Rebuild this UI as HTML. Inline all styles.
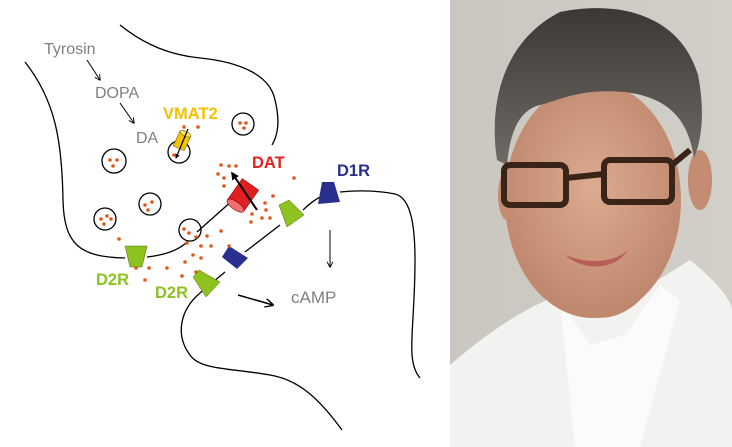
<!DOCTYPE html>
<html><head><style>
html,body{margin:0;padding:0;background:#fff;width:732px;height:447px;overflow:hidden}
svg{display:block}
text{font-family:"Liberation Sans",sans-serif}
</style></head><body>
<svg width="732" height="447" viewBox="0 0 732 447">
<defs>
<marker id="a" viewBox="0 0 10 10" refX="9" refY="5" markerWidth="6" markerHeight="6" orient="auto"><path d="M0,0 L10,5 L0,10" fill="none" stroke="#000" stroke-width="1.5"/></marker>
<marker id="b" viewBox="0 0 10 10" refX="8" refY="5" markerWidth="4" markerHeight="4" orient="auto"><path d="M0,0 L10,5 L0,10z" fill="#000"/></marker>
<radialGradient id="face" cx="50%" cy="45%" r="60%"><stop offset="0" stop-color="#dcab90"/><stop offset="1" stop-color="#bc846a"/></radialGradient>
<linearGradient id="bg" x1="0" x2="1"><stop offset="0" stop-color="#c9c7bf"/><stop offset="1" stop-color="#d2cfc8"/></linearGradient>
<linearGradient id="hair" x1="0" x2="0" y1="0" y2="1"><stop offset="0" stop-color="#3c3834"/><stop offset="1" stop-color="#6e6a66"/></linearGradient>
</defs>
<g fill="none" stroke="#000" stroke-width="1.3">
<path d="M25,62 C55,100 62,140 63,200 C64,245 80,257 125,258"/>
<path d="M147,257 C165,255 178,250 186,243"/>
<path d="M197,232 L233,200"/>
<circle cx="190" cy="230" r="11"/>
<path d="M120,25 C145,45 170,55 200,58 C240,62 270,75 275,100 C280,120 278,135 272,145"/>
<path d="M200,293 L225,272 M245,252 L280,225 M303,210 C310,203 316,199 322,196 M340,192 C360,190 380,191 395,194 C412,198 415,230 415,260 C415,330 405,360 420,378"/>
<path d="M342,430 C320,400 300,380 270,375 C230,368 200,370 190,355 C175,335 180,310 200,293"/>
<circle cx="114" cy="161" r="12"/><circle cx="150" cy="204" r="11"/><circle cx="105" cy="219" r="11"/><circle cx="243" cy="124" r="11"/><circle cx="179" cy="152" r="11"/>
</g>
<g stroke="#000" stroke-width="1" marker-end="url(#a)">
<line x1="87" y1="60" x2="100" y2="80"/><line x1="120" y1="103" x2="134" y2="123"/>
<line x1="330" y1="230" x2="330" y2="267"/><line x1="238" y1="295" x2="273" y2="305" stroke-width="1.5"/>
</g>
<polygon points="125,246 147,246 142,267 130,267" fill="#8dc21f" stroke="#4a6a10" stroke-width=".5"/>
<polygon points="279,205 289,200 304,215 287,227" fill="#8dc21f" stroke="#4a6a10" stroke-width=".5"/>
<polygon points="193,277 199,270 220,282 206,297" fill="#8dc21f" stroke="#4a6a10" stroke-width=".5"/>
<polygon points="322,182 334,182 340,202 318,204" fill="#2a2f8f"/>
<polygon points="222,257 229,246 248,258 237,269" fill="#2a2f8f"/>
<g transform="translate(243,195) rotate(35)"><rect x="-10" y="-13" width="20" height="26" fill="#e02020" stroke="#800" stroke-width=".6"/><ellipse cx="0" cy="13" rx="10" ry="4" fill="#f07070" stroke="#800" stroke-width=".6"/></g>
<line x1="257" y1="210" x2="232" y2="173" stroke="#000" stroke-width="2" marker-end="url(#b)"/>
<g transform="translate(182,141) rotate(25)"><rect x="-6" y="-8" width="12" height="16" fill="#f5c400" stroke="#806000" stroke-width=".6"/><ellipse cx="0" cy="-8" rx="6" ry="2.5" fill="#ffe060" stroke="#806000" stroke-width=".6"/></g>
<line x1="188" y1="129" x2="176" y2="158" stroke="#000" stroke-width="1.2" marker-end="url(#b)"/>
<g fill="#e2561e">
<circle cx="110" cy="160" r="1.8"/><circle cx="117" cy="160" r="1.8"/><circle cx="113" cy="166" r="1.8"/>
<circle cx="145" cy="205" r="1.8"/><circle cx="152" cy="202" r="1.8"/><circle cx="148" cy="210" r="1.8"/>
<circle cx="101" cy="219" r="1.8"/><circle cx="107" cy="216" r="1.8"/><circle cx="104" cy="224" r="1.8"/><circle cx="111" cy="219" r="1.8"/>
<circle cx="240" cy="123" r="1.8"/><circle cx="246" cy="123" r="1.8"/><circle cx="244" cy="128" r="1.8"/>
<circle cx="174" cy="155" r="1.8"/><circle cx="184" cy="127" r="1.8"/><circle cx="198" cy="127" r="1.8"/>
<circle cx="221" cy="165" r="1.8"/><circle cx="229" cy="166" r="1.8"/><circle cx="236" cy="166" r="1.8"/><circle cx="218" cy="174" r="1.8"/><circle cx="224" cy="178" r="1.8"/><circle cx="224" cy="186" r="1.8"/>
<circle cx="294" cy="178" r="1.8"/><circle cx="273" cy="196" r="1.8"/><circle cx="265" cy="203" r="1.8"/><circle cx="266" cy="210" r="1.8"/><circle cx="252" cy="214" r="1.8"/><circle cx="262" cy="218" r="1.8"/><circle cx="270" cy="218" r="1.8"/><circle cx="251" cy="222" r="1.8"/>
<circle cx="184" cy="229" r="1.8"/><circle cx="189" cy="233" r="1.8"/><circle cx="196" cy="237" r="1.8"/><circle cx="207" cy="236" r="1.8"/><circle cx="221" cy="231" r="1.8"/><circle cx="187" cy="243" r="1.8"/><circle cx="201" cy="246" r="1.8"/><circle cx="211" cy="246" r="1.8"/><circle cx="229" cy="246" r="1.8"/><circle cx="193" cy="255" r="1.8"/><circle cx="201" cy="258" r="1.8"/><circle cx="185" cy="262" r="1.8"/><circle cx="119" cy="239" r="1.8"/><circle cx="136" cy="268" r="1.8"/><circle cx="149" cy="268" r="1.8"/><circle cx="167" cy="268" r="1.8"/><circle cx="145" cy="280" r="1.8"/><circle cx="182" cy="276" r="1.8"/><circle cx="196" cy="272" r="1.8"/>
</g>
<g font-size="16" fill="#808080">
<text x="44" y="54">Tyrosin</text><text x="95" y="98">DOPA</text><text x="136" y="143">DA</text><text x="291" y="303" font-size="17">cAMP</text>
</g>
<g font-size="16.5" font-weight="bold">
<text x="163" y="119" fill="#f5c000">VMAT2</text><text x="252" y="168" fill="#e52020">DAT</text><text x="337" y="176" fill="#2a2f8f">D1R</text>
<text x="96" y="285" fill="#8dc21f">D2R</text><text x="155" y="298" fill="#8dc21f">D2R</text>
</g>
<rect x="450" y="0" width="282" height="447" fill="url(#bg)"/>
<path d="M450,365 C490,330 530,305 560,295 L610,310 L690,260 C715,280 732,300 732,310 L732,447 L450,447z" fill="#f2f2f1"/>
<path d="M560,300 L590,345 L625,335 L660,285 L680,300 L640,447 L575,447z" fill="#fbfbfb"/>
<path d="M555,285 C570,320 610,330 640,300 L650,270 L560,270z" fill="#c48b72"/>
<ellipse cx="593" cy="200" rx="88" ry="118" fill="url(#face)"/>
<ellipse cx="507" cy="195" rx="9" ry="25" fill="#c48c72"/>
<ellipse cx="700" cy="180" rx="12" ry="30" fill="#c48c72"/>
<path d="M497,160 C488,100 505,40 560,12 C620,0 680,15 698,75 C705,110 702,140 694,158 C688,120 670,98 625,92 C580,88 560,100 540,105 C520,110 510,130 507,165z" fill="url(#hair)"/>
<g fill="none" stroke="#3a2418" stroke-width="6"><rect x="504" y="165" width="62" height="40" rx="6"/><rect x="604" y="160" width="68" height="42" rx="6"/><path d="M566,178 L604,174"/><path d="M672,165 L690,150"/></g>
<path d="M565,255 C590,265 615,262 628,250 C615,270 585,272 565,255z" fill="#b65e58"/>
</svg>
</body></html>
